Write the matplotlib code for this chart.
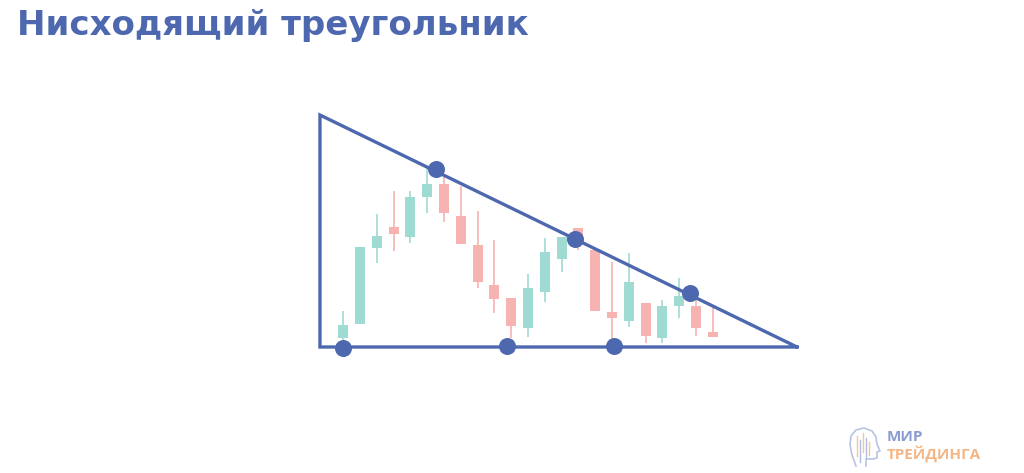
import matplotlib
matplotlib.use("Agg")
import matplotlib.pyplot as plt
from matplotlib.patches import Rectangle
import numpy as np

# ---- data ----
title = "Нисходящий треугольник"
opens  = [135.3, 149.3, 224.7, 246.0, 236.3, 276.3, 289.0, 257.0, 228.0, 188.3, 175.3, 145.3,
          181.3, 214.3, 244.7, 223.0, 161.3, 152.0, 169.7, 135.3, 167.3, 167.0, 141.3]
closes = [148.0, 225.7, 237.3, 239.3, 276.0, 289.0, 260.3, 228.7, 191.0, 173.7, 147.3, 184.7,
          220.7, 235.7, 233.0, 162.3, 154.7, 191.3, 137.0, 167.0, 177.3, 144.7, 136.3]
highs  = [162.3, 225.7, 259.0, 282.3, 282.3, 304.7, 296.3, 287.0, 262.0, 233.0, 175.3, 198.7,
          234.7, 235.7, 244.7, 223.0, 211.3, 220.3, 169.7, 173.0, 194.7, 176.0, 167.0]
lows   = [132.0, 149.3, 209.7, 222.3, 229.7, 260.3, 251.3, 228.7, 184.7, 160.3, 135.0, 136.3,
          171.3, 201.3, 223.0, 162.3, 126.3, 145.7, 130.3, 130.3, 154.7, 137.0, 136.3]

# triangle vertices (candle index, price)
tri_x = [27.02, -1.39, -1.39, 27.02]
tri_y = [126.0, 126.0, 358.0, 126.0]
# touch points
support_x = [-0.02, 9.75, 16.12]
support_y = [125.0, 127.0, 127.0]
resist_x = [5.52, 13.8, 20.65]
resist_y = [304.0, 234.0, 180.0]

logo_top = "МИР"
logo_bottom = "ТРЕЙДИНГА"

# ---- style ----
GREEN = "#9fdad3"
RED = "#f6b3b1"
BLUE = "#4d68ae"

fig = plt.figure(figsize=(10.24, 4.73), dpi=100)
ax = fig.add_axes([0, 0, 1, 1])
x0, dx = 343.3, 16.79
ax.set_xlim((0 - x0) / dx, (1024 - x0) / dx)
ax.set_ylim(0, 473)
ax.axis("off")

w = 10.0 / dx
for i, (o, c, h, l) in enumerate(zip(opens, closes, highs, lows)):
    col = GREEN if c >= o else RED
    ax.plot([i, i], [l, h], color=col, lw=1.2, solid_capstyle="butt", zorder=2)
    ax.add_patch(Rectangle((i - w / 2, min(o, c)), w, max(abs(c - o), 1.5),
                           facecolor=col, edgecolor="none", zorder=3))

ax.plot(tri_x, tri_y, color=BLUE, lw=2.4, solid_joinstyle="miter", zorder=4)
ax.scatter(support_x + resist_x, support_y + resist_y, s=150, color=BLUE, zorder=5, linewidths=0)

fig.text(17 / 1024, 1 - 25 / 473, title, fontsize=24.5, fontweight="bold", color=BLUE,
         family="DejaVu Sans", va="center", ha="left")

# logo
fig.text(887 / 1024, 1 - 437 / 473, logo_top, fontsize=11, fontweight="bold",
         color="#8a9bd0", family="Open Sans", va="center", ha="left")
fig.text(887 / 1024, 1 - 453.5 / 473, logo_bottom, fontsize=11, fontweight="bold",
         color="#f5b685", family="Open Sans", va="center", ha="left")
# head outline in pixel coordinates
lax = fig.add_axes([0, 0, 1, 1], facecolor="none")
lax.set_xlim(0, 1024)
lax.set_ylim(473, 0)
lax.axis("off")
hx = [856, 852, 850, 851, 856, 864, 872, 876, 877, 880, 877, 877, 873, 866, 866]
hy = [466, 455, 445, 436, 430, 428, 431, 437, 444, 451, 452, 458, 459, 459, 466]
lax.plot(hx, hy, color="#b9c3e3", lw=1.2)
for px, top, bot, c in [(857, 436, 456, "#f5c49b"), (860, 440, 462, "#b0bde3"),
                        (863, 433, 452, "#f5c49b"), (866, 438, 458, "#b0bde3"),
                        (869, 442, 455, "#f5c49b")]:
    lax.plot([px, px], [top, bot], color=c, lw=1.0)

fig.savefig("out.png", dpi=100, facecolor="white")
